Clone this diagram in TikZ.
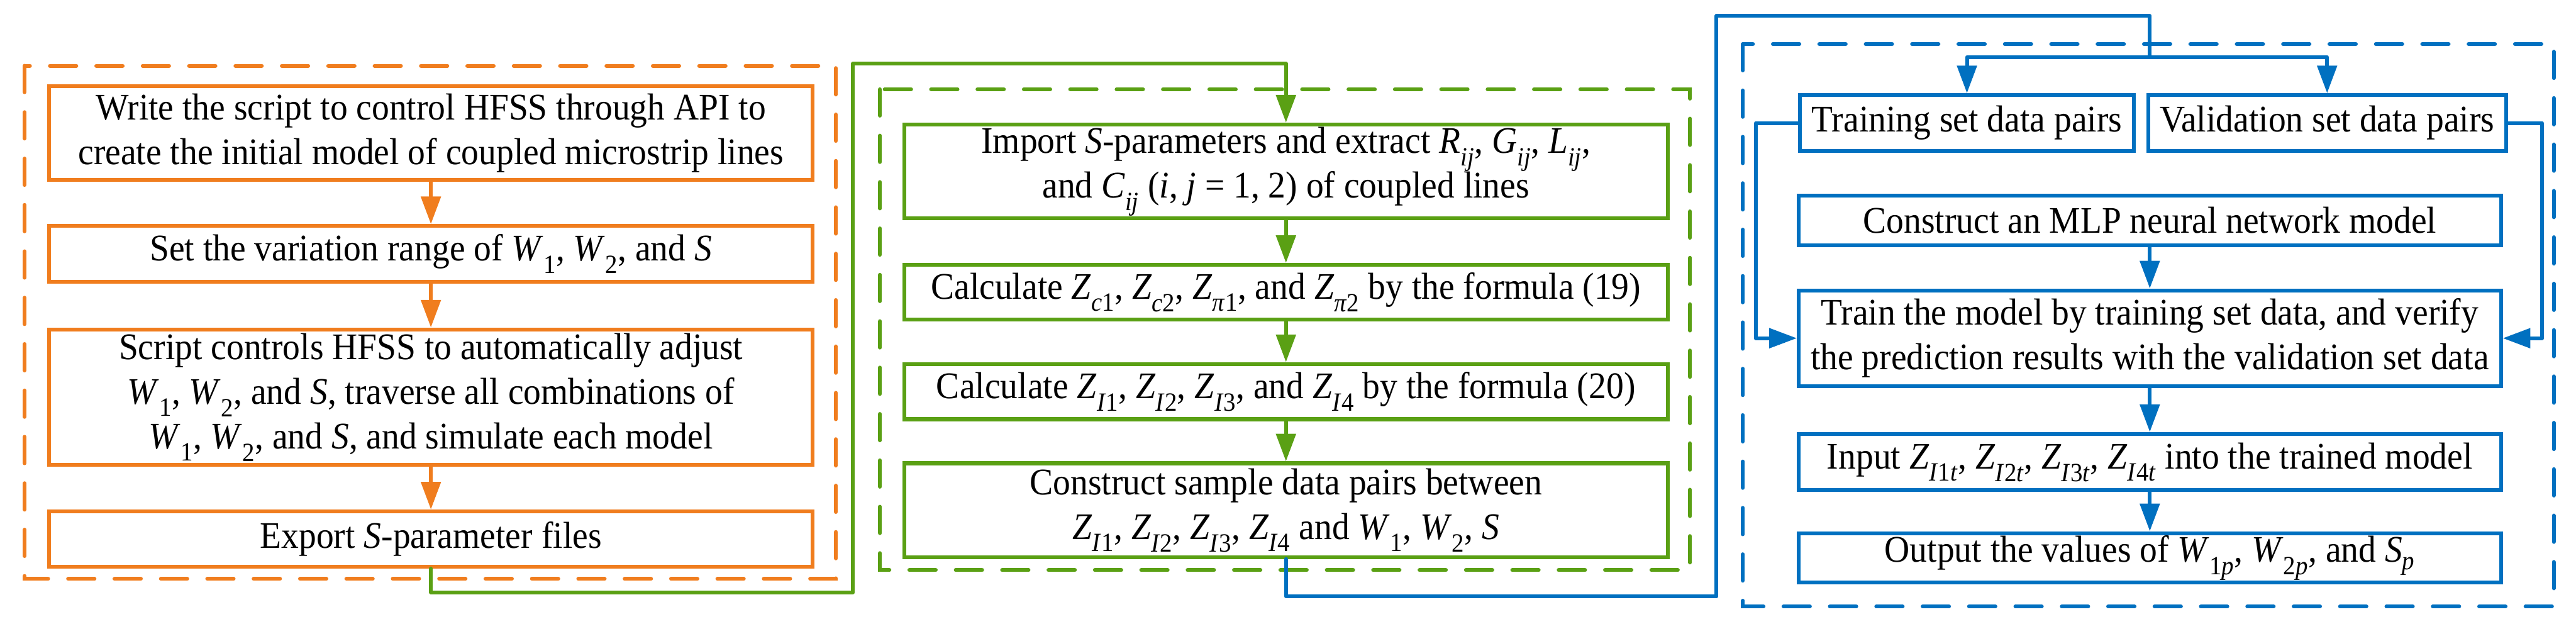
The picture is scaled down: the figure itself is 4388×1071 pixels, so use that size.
\documentclass[tikz,border=0pt]{standalone}
\usepackage{fontspec}
\setmainfont[FakeStretch=0.93]{Liberation Serif}
\usetikzlibrary{arrows.meta}
\definecolor{cor}{RGB}{240,125,30}
\definecolor{cgr}{RGB}{90,160,20}
\definecolor{cbl}{RGB}{0,112,192}
\newcommand\Sb[2]{\textit{#1}\textsubscript{#2}}
\tikzset{
  box/.style={draw, line width=6.5pt, align=center, inner sep=0pt, text=black,
    font=\fontsize{64}{76}\selectfont},
  obox/.style={box, draw=cor, minimum width=1300pt},
  gbox/.style={box, draw=cgr, minimum width=1301pt},
  bbox/.style={box, draw=cbl},
  dbox/.style={line width=6.5pt, line cap=round, dash pattern=on 45pt off 34pt},
  conn/.style={line width=6.5pt, line join=round, line cap=round},
  arr/.style={-{Triangle[length=47pt,width=33pt]}},
}
\begin{document}
\begin{tikzpicture}[x=1pt,y=-1pt]
\useasboundingbox (0,0) rectangle (4388,1071);
% ---------- orange ----------
\draw[dbox, cor] (42,112) rectangle (1424,986);
\node[obox, minimum height=159pt] (o1) at (734,226.5) {Write the script to control HFSS through API to\\create the initial model of coupled microstrip lines};
\node[obox, minimum height=95pt] (o2) at (734,432.5) {Set the variation range of \Sb{W}{1}, \Sb{W}{2}, and \textit{S}};
\node[obox, minimum height=231pt] (o3) at (734,676.5) {Script controls HFSS to automatically adjust\\\Sb{W}{1}, \Sb{W}{2}, and \textit{S}, traverse all combinations of\\\Sb{W}{1}, \Sb{W}{2}, and \textit{S}, and simulate each model};
\node[obox, minimum height=94pt] (o4) at (734,918) {Export \textit{S}-parameter files};
\draw[conn, cor, arr] (o1) -- (o2);
\draw[conn, cor, arr] (o2) -- (o3);
\draw[conn, cor, arr] (o3) -- (o4);
% ---------- green ----------
\draw[dbox, cgr] (1499,152) rectangle (2879,971);
\node[gbox, minimum height=160pt] (g1) at (2190.5,292) {Import \textit{S}-parameters and extract \Sb{R}{\textit{ij}}, \Sb{G}{\textit{ij}}, \Sb{L}{\textit{ij}},\\and \Sb{C}{\textit{ij}} (\textit{i}, \textit{j} = 1, 2) of coupled lines};
\node[gbox, minimum height=93pt] (g2) at (2190.5,497.5) {Calculate \Sb{Z}{\textit{c}1}, \Sb{Z}{\textit{c}2}, \Sb{Z}{\textit{π}1}, and \Sb{Z}{\textit{π}2} by the formula (19)};
\node[gbox, minimum height=94pt] (g3) at (2190.5,667) {Calculate \Sb{Z}{\textit{I}1}, \Sb{Z}{\textit{I}2}, \Sb{Z}{\textit{I}3}, and \Sb{Z}{\textit{I}4} by the formula (20)};
\node[gbox, minimum height=160pt] (g4) at (2190.5,869) {Construct sample data pairs between\\\Sb{Z}{\textit{I}1}, \Sb{Z}{\textit{I}2}, \Sb{Z}{\textit{I}3}, \Sb{Z}{\textit{I}4} and \Sb{W}{1}, \Sb{W}{2}, \textit{S}};
\draw[conn, cgr, arr] (g1) -- (g2);
\draw[conn, cgr, arr] (g2) -- (g3);
\draw[conn, cgr, arr] (g3) -- (g4);
\coordinate (ga) at (1453,1009);
\coordinate (gb) at (1453,108);
\draw[conn, cgr, arr] (o4.south) |- (ga) -- (gb) -| (g1.north);
% ---------- blue ----------
\draw[dbox, cbl] (2969,75) rectangle (4350,1033);
\node[bbox, minimum width=569pt, minimum height=95pt] (t) at (3350.5,209.5) {Training set data pairs};
\node[bbox, minimum width=610pt, minimum height=95pt] (v) at (3964,209.5) {Validation set data pairs};
\node[bbox, minimum width=1196pt, minimum height=85pt] (m) at (3662,375.5) {Construct an MLP neural network model};
\node[bbox, minimum width=1196pt, minimum height=163pt] (tr) at (3662,576) {Train the model by training set data, and verify\\the prediction results with the validation set data};
\node[bbox, minimum width=1196pt, minimum height=96pt] (in) at (3662,787) {Input \Sb{Z}{\textit{I}1\textit{t}}, \Sb{Z}{\textit{I}2\textit{t}}, \Sb{Z}{\textit{I}3\textit{t}}, \Sb{Z}{\textit{I}4\textit{t}} into the trained model};
\node[bbox, minimum width=1196pt, minimum height=84pt] (out) at (3662,950) {Output the values of \Sb{W}{1\textit{p}}, \Sb{W}{2\textit{p}}, and \Sb{S}{\textit{p}}};
\draw[conn, cbl, arr] (m) -- (tr);
\draw[conn, cbl, arr] (tr) -- (in);
\draw[conn, cbl, arr] (in) -- (out);
\coordinate (ba) at (2924,1016);
\coordinate (bb) at (2924,27);
\coordinate (bc) at (3662,97);
\draw[conn, cbl] (g4.south) |- (ba) -- (bb) -| (bc);
\draw[conn, cbl, arr] (bc) -| (t.north);
\draw[conn, cbl, arr] (bc) -| (v.north);
\draw[conn, cbl, arr] (t.west) -- ++(-72,0) |- (tr.west);
\draw[conn, cbl, arr] (v.east) -- ++(58,0) |- (tr.east);
\end{tikzpicture}
\end{document}
